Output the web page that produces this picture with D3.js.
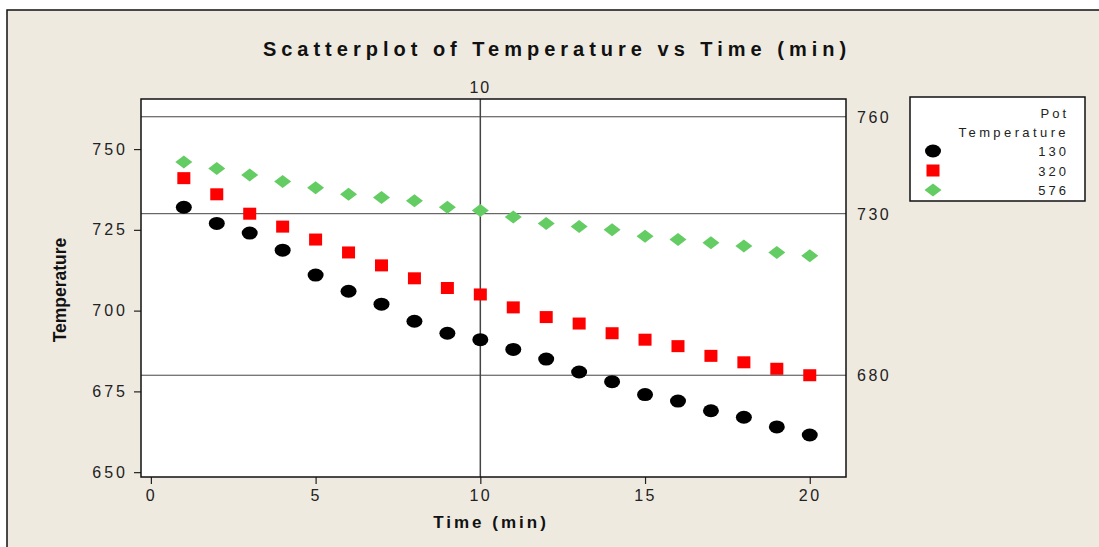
<!DOCTYPE html>
<html>
<head>
<meta charset="utf-8">
<script src="https://cdn.jsdelivr.net/npm/d3@7"></script>
<style>
  body { margin: 0; background: #fff; }
  svg { display: block; }
  text { font-family: 'Liberation Sans', Arial, sans-serif; fill: #222; }
</style>
</head>
<body>
<svg id="chart" width="1099" height="547"></svg>
<script>
// data
const times = d3.range(1, 21)
const pot130 = [732, 727, 724, 718.7, 711, 706, 702, 696.7, 693, 691, 688, 685, 681, 678, 674, 672, 669, 667, 664, 661.5]
const pot320 = [741, 736, 730, 726, 722, 718, 714, 710, 707, 705, 701, 698, 696, 693, 691, 689, 686, 684, 682, 680]
const pot576 = [746, 744, 742, 740, 738, 736, 735, 734, 732, 731, 729, 727, 726, 725, 723, 722, 721, 720, 718, 717]
const seriesNames = ['130', '320', '576']
const xTicks = [0, 5, 10, 15, 20]
const yTicks = [650, 675, 700, 725, 750]
const refY = [760, 730, 680]
const refX = [10]

const series = [
  { name: '130', values: pot130, shape: 'circle', color: '#000' },
  { name: '320', values: pot320, shape: 'square', color: '#ff0000' },
  { name: '576', values: pot576, shape: 'diamond', color: '#63cc63' }
]

const svg = d3.select('#chart')

// frame
svg.append('rect').attr('x', 7).attr('y', 10).attr('width', 1100).attr('height', 540)
  .attr('fill', '#eeeae0').attr('stroke', '#111').attr('stroke-width', 1.5)

const plot = { left: 141, top: 99, right: 846, bottom: 477 }

const x = d3.scaleLinear().domain([-0.3, 21.1]).range([plot.left, plot.right])
const y = d3.scaleLinear().domain([648.5, 765.5]).range([plot.bottom, plot.top])

svg.append('text')
  .attr('x', 557).attr('y', 56)
  .attr('text-anchor', 'middle')
  .style('font-size', '20px').style('font-weight', 'bold')
  .style('letter-spacing', '5px').style('fill', '#111')
  .text('Scatterplot of Temperature vs Time (min)')

svg.append('rect')
  .attr('x', plot.left).attr('y', plot.top)
  .attr('width', plot.right - plot.left).attr('height', plot.bottom - plot.top)
  .attr('fill', '#fff')

// reference lines
svg.selectAll('line.refy').data(refY).enter().append('line')
  .attr('class', 'refy')
  .attr('x1', plot.left).attr('x2', plot.right)
  .attr('y1', (d) => y(d)).attr('y2', (d) => y(d))
  .attr('stroke', '#444').attr('stroke-width', 1)

svg.selectAll('text.refy').data(refY).enter().append('text')
  .attr('class', 'refy')
  .attr('x', 857).attr('y', (d) => y(d) + 6)
  .style('font-size', '16px').style('letter-spacing', '2.5px')
  .text((d) => d)

svg.selectAll('line.refx').data(refX).enter().append('line')
  .attr('class', 'refx')
  .attr('x1', (d) => x(d)).attr('x2', (d) => x(d))
  .attr('y1', plot.top).attr('y2', plot.bottom)
  .attr('stroke', '#444').attr('stroke-width', 1.5)

svg.selectAll('text.refx').data(refX).enter().append('text')
  .attr('class', 'refx')
  .attr('x', (d) => x(d)).attr('y', 93)
  .attr('text-anchor', 'middle')
  .style('font-size', '16px').style('letter-spacing', '2px')
  .text((d) => d)

// axes
const xAxis = d3.axisBottom(x).tickValues(xTicks).tickSize(7).tickPadding(6).tickSizeOuter(0)
const gx = svg.append('g').attr('transform', `translate(0,${plot.bottom})`).call(xAxis)
gx.select('.domain').remove()
gx.selectAll('line').attr('stroke', '#222').attr('stroke-width', 1.2)
gx.selectAll('text').style('font-size', '16px').style('letter-spacing', '2.5px').attr('fill', '#222')

const yAxis = d3.axisLeft(y).tickValues(yTicks).tickSize(7).tickPadding(6).tickSizeOuter(0)
const gy = svg.append('g').attr('transform', `translate(${plot.left},0)`).call(yAxis)
gy.select('.domain').remove()
gy.selectAll('line').attr('stroke', '#222').attr('stroke-width', 1.2)
gy.selectAll('text').style('font-size', '16px').style('letter-spacing', '3px').attr('fill', '#222')

svg.append('rect')
  .attr('x', plot.left).attr('y', plot.top)
  .attr('width', plot.right - plot.left).attr('height', plot.bottom - plot.top)
  .attr('fill', 'none').attr('stroke', '#111').attr('stroke-width', 1.5)

svg.append('text')
  .attr('x', 491).attr('y', 528)
  .attr('text-anchor', 'middle')
  .style('font-size', '17px').style('font-weight', 'bold').style('letter-spacing', '3px')
  .style('fill', '#111')
  .text('Time (min)')

svg.append('text')
  .attr('transform', 'translate(66,290) rotate(-90)')
  .attr('text-anchor', 'middle')
  .style('font-size', '17.5px').style('font-weight', 'bold').style('fill', '#111')
  .text('Temperature')

function marker(g, shape, color) {
  if (shape === 'circle') {
    g.append('ellipse').attr('rx', 8).attr('ry', 6.5).attr('fill', color)
  } else if (shape === 'square') {
    g.append('rect').attr('x', -6.5).attr('y', -6).attr('width', 13).attr('height', 12).attr('fill', color)
  } else {
    g.append('path').attr('d', 'M-8.5,0L0,-6.5L8.5,0L0,6.5Z').attr('fill', color)
  }
}

series.forEach((s) => {
  svg.append('g').selectAll('g').data(s.values).enter().append('g')
    .attr('transform', (d, i) => `translate(${x(times[i])},${y(d)})`)
    .each(function() { marker(d3.select(this), s.shape, s.color) })
})

// legend
const lg = svg.append('g')
lg.append('rect').attr('x', 910).attr('y', 97).attr('width', 175).attr('height', 104)
  .attr('fill', '#fff').attr('stroke', '#111').attr('stroke-width', 1.5)
lg.append('text').attr('x', 1069).attr('y', 118).attr('text-anchor', 'end')
  .style('font-size', '13px').style('letter-spacing', '3px').text('Pot')
lg.append('text').attr('x', 1069).attr('y', 137).attr('text-anchor', 'end')
  .style('font-size', '13px').style('letter-spacing', '3.4px').text('Temperature')

series.forEach((s, i) => {
  const cy = 151 + i * 19.5
  const g = lg.append('g').attr('transform', `translate(933,${cy})`)
  marker(g, s.shape, s.color)
  lg.append('text').attr('x', 1069).attr('y', cy + 5).attr('text-anchor', 'end')
    .style('font-size', '13px').style('letter-spacing', '3px').text(seriesNames[i])
})
</script>
</body>
</html>
